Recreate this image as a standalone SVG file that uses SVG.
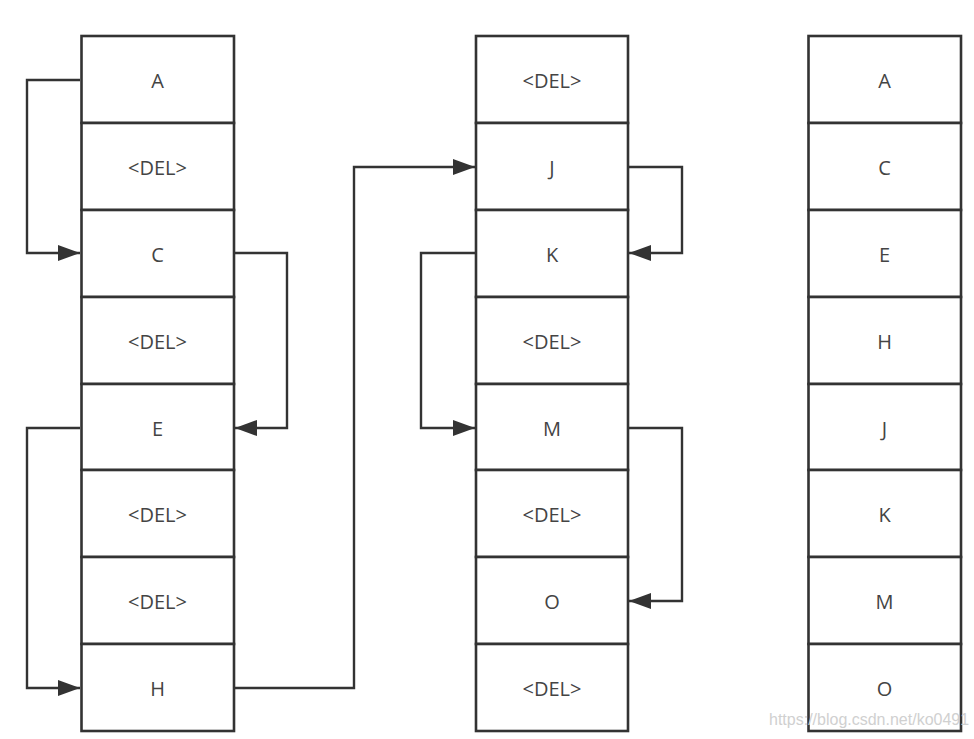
<svg xmlns="http://www.w3.org/2000/svg" width="974" height="739" viewBox="0 0 974 739">
<style>
.cell{fill:#fff;stroke:#333;stroke-width:2.6}
.lbl{font-family:"Open Sans","Noto Sans",sans-serif;font-size:20px;fill:#444;text-anchor:middle;dominant-baseline:central}
.con{fill:none;stroke:#333;stroke-width:2.4}
.wm{font-family:"Liberation Sans",Arial,sans-serif;font-size:16px;fill:#d0d0d0}
</style>
<defs>
<marker id="ah" markerUnits="userSpaceOnUse" markerWidth="24" markerHeight="18" refX="22" refY="8" orient="auto">
<path d="M0,0 L22,8 L0,16 Z" fill="#333"/>
</marker>
</defs>
<rect width="974" height="739" fill="#fff"/>
<g id="col1">
<g id="c1r1"><rect class="cell" x="81.5" y="36" width="152.5" height="87"/><text class="lbl" x="157.5" y="80">A</text></g>
<g id="c1r2"><rect class="cell" x="81.5" y="123" width="152.5" height="87"/><text class="lbl" x="157.5" y="167">&lt;DEL&gt;</text></g>
<g id="c1r3"><rect class="cell" x="81.5" y="210" width="152.5" height="87"/><text class="lbl" x="157.5" y="254">C</text></g>
<g id="c1r4"><rect class="cell" x="81.5" y="297" width="152.5" height="87"/><text class="lbl" x="157.5" y="341">&lt;DEL&gt;</text></g>
<g id="c1r5"><rect class="cell" x="81.5" y="384" width="152.5" height="86"/><text class="lbl" x="157.5" y="428">E</text></g>
<g id="c1r6"><rect class="cell" x="81.5" y="470" width="152.5" height="87"/><text class="lbl" x="157.5" y="514">&lt;DEL&gt;</text></g>
<g id="c1r7"><rect class="cell" x="81.5" y="557" width="152.5" height="87"/><text class="lbl" x="157.5" y="601">&lt;DEL&gt;</text></g>
<g id="c1r8"><rect class="cell" x="81.5" y="644" width="152.5" height="87"/><text class="lbl" x="157.5" y="688">H</text></g>
</g>
<g id="col2">
<g id="c2r1"><rect class="cell" x="476" y="36" width="152" height="87"/><text class="lbl" x="552" y="80">&lt;DEL&gt;</text></g>
<g id="c2r2"><rect class="cell" x="476" y="123" width="152" height="87"/><text class="lbl" x="552" y="167">J</text></g>
<g id="c2r3"><rect class="cell" x="476" y="210" width="152" height="87"/><text class="lbl" x="552" y="254">K</text></g>
<g id="c2r4"><rect class="cell" x="476" y="297" width="152" height="87"/><text class="lbl" x="552" y="341">&lt;DEL&gt;</text></g>
<g id="c2r5"><rect class="cell" x="476" y="384" width="152" height="86"/><text class="lbl" x="552" y="428">M</text></g>
<g id="c2r6"><rect class="cell" x="476" y="470" width="152" height="87"/><text class="lbl" x="552" y="514">&lt;DEL&gt;</text></g>
<g id="c2r7"><rect class="cell" x="476" y="557" width="152" height="87"/><text class="lbl" x="552" y="601">O</text></g>
<g id="c2r8"><rect class="cell" x="476" y="644" width="152" height="87"/><text class="lbl" x="552" y="688">&lt;DEL&gt;</text></g>
</g>
<g id="col3">
<g id="c3r1"><rect class="cell" x="808.5" y="36" width="152.5" height="87"/><text class="lbl" x="884.5" y="80">A</text></g>
<g id="c3r2"><rect class="cell" x="808.5" y="123" width="152.5" height="87"/><text class="lbl" x="884.5" y="167">C</text></g>
<g id="c3r3"><rect class="cell" x="808.5" y="210" width="152.5" height="87"/><text class="lbl" x="884.5" y="254">E</text></g>
<g id="c3r4"><rect class="cell" x="808.5" y="297" width="152.5" height="87"/><text class="lbl" x="884.5" y="341">H</text></g>
<g id="c3r5"><rect class="cell" x="808.5" y="384" width="152.5" height="86"/><text class="lbl" x="884.5" y="428">J</text></g>
<g id="c3r6"><rect class="cell" x="808.5" y="470" width="152.5" height="87"/><text class="lbl" x="884.5" y="514">K</text></g>
<g id="c3r7"><rect class="cell" x="808.5" y="557" width="152.5" height="87"/><text class="lbl" x="884.5" y="601">M</text></g>
<g id="c3r8"><rect class="cell" x="808.5" y="644" width="152.5" height="87"/><text class="lbl" x="884.5" y="688">O</text></g>
</g>
<g id="connectors">
<path class="con" d="M80,80 H27 V253 H80" marker-end="url(#ah)"/>
<path class="con" d="M235,253 H287 V428 H235" marker-end="url(#ah)"/>
<path class="con" d="M80,428 H27 V688 H80" marker-end="url(#ah)"/>
<path class="con" d="M235,688 H354 V167 H475" marker-end="url(#ah)"/>
<path class="con" d="M629,167 H682 V253 H629" marker-end="url(#ah)"/>
<path class="con" d="M475,253 H421 V428 H475" marker-end="url(#ah)"/>
<path class="con" d="M629,428 H682 V601 H629" marker-end="url(#ah)"/>
</g>
<text class="wm" x="769" y="725">https://blog.csdn.net/ko0491</text>
</svg>
